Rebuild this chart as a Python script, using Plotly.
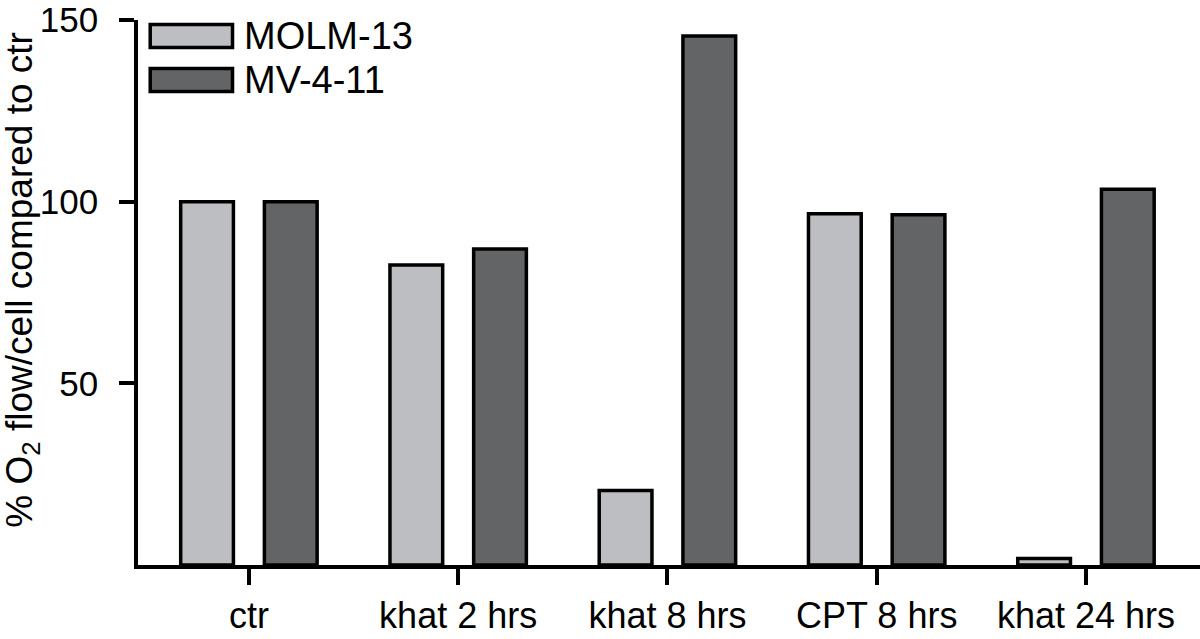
import plotly.graph_objects as go

categories = ["ctr", "khat 2 hrs", "khat 8 hrs", "CPT 8 hrs", "khat 24 hrs"]
series_names = ["MOLM-13", "MV-4-11"]
molm13 = [100.0, 82.6, 20.5, 96.7, 1.8]
mv411 = [100.0, 87.0, 145.6, 96.4, 103.4]
colors = ["#BDBEC1", "#636466"]
y_ticks = [50, 100, 150]
y_title = "% O<sub>2</sub> flow/cell compared to ctr"

FONT = "Arial, Liberation Sans, sans-serif"

fig = go.Figure()
for name, vals, col in zip(series_names, [molm13, mv411], colors):
    fig.add_trace(go.Bar(
        x=categories, y=vals, name=name,
        marker=dict(color=col, line=dict(color="#000000", width=3.5)),
        showlegend=False,
    ))

# legend drawn as boxes + labels in paper coordinates
leg_boxes = [(0.9495, 0.9917), (0.8688, 0.911)]
leg_text_y = [0.9706, 0.89]
for (y0, y1), ty, name, col in zip(leg_boxes, leg_text_y, series_names, colors):
    fig.add_shape(type="rect", xref="paper", yref="paper",
                  x0=0.0115, x1=0.089, y0=y0, y1=y1,
                  fillcolor=col, line=dict(color="#000000", width=3.5))
    fig.add_annotation(xref="paper", yref="paper", x=0.098, y=ty,
                       text=name, showarrow=False, xanchor="left", yanchor="middle",
                       font=dict(family=FONT, size=38, color="#000000"))

# y-axis title as rotated annotation
fig.add_annotation(xref="paper", yref="paper", x=-0.1095, y=0.523,
                   text=y_title, textangle=-90, showarrow=False,
                   xanchor="center", yanchor="middle",
                   font=dict(family=FONT, size=37, color="#000000"))

fig.update_layout(
    width=1200, height=639,
    margin=dict(l=138, r=0, t=20, b=74, autoexpand=False),
    paper_bgcolor="white", plot_bgcolor="white",
    barmode="group", bargap=0.2, bargroupgap=0.37,
    font=dict(family=FONT, size=36, color="#000000"),
    xaxis=dict(
        type="category", range=[-0.53, 4.545], automargin=False,
        showline=True, linecolor="#000000", linewidth=3.5,
        ticks="outside", ticklen=16, tickwidth=3.5, tickcolor="#000000",
        showgrid=False, zeroline=False,
        tickfont=dict(family=FONT, size=36, color="#000000"),
    ),
    yaxis=dict(
        range=[0, 150], tickvals=y_ticks, ticklabeloverflow="allow", automargin=False,
        showline=True, linecolor="#000000", linewidth=3.5,
        ticks="outside", ticklen=15, tickwidth=3.5, tickcolor="#000000",
        ticklabelstandoff=14,
        showgrid=False, zeroline=False,
        tickfont=dict(family=FONT, size=35, color="#000000"),
    ),
)

# remove the browser's default 8px body margin so the figure fills the window
fig.write_html("out.html", config={"displayModeBar": False},
               post_script="document.body.style.margin='0';")
